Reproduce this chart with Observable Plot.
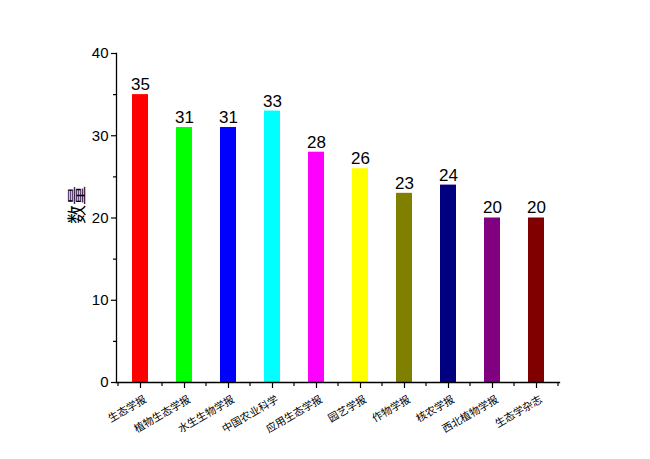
<!DOCTYPE html>
<html><head><meta charset="utf-8">
<script src="https://cdn.jsdelivr.net/npm/d3@7"></script>
<script src="https://cdn.jsdelivr.net/npm/@observablehq/plot@0.6"></script>
<style>body{margin:0;background:#fff;} #chart svg{display:block;}</style>
</head><body><div id="chart"></div>
<script>
const categories = ["生态学报","植物生态学报","水生生物学报","中国农业科学","应用生态学报","园艺学报","作物学报","核农学报","西北植物学报","生态学杂志"];
const values = [35,31,31,33,28,26,23,24,20,20];
const colors = ["#ff0000","#00ff00","#0000ff","#00ffff","#ff00ff","#ffff00","#808000","#000080","#800080","#800000"];
const yMajor = [0,10,20,30,40];
const yMinor = [5,15,25,35];

const data = categories.map((c,i)=>({cat:c, v:values[i], col:colors[i]}));
const chart = Plot.plot({
  width: 650, height: 459,
  marginLeft: 116, marginRight: 91, marginTop: 53, marginBottom: 77,
  style: {fontFamily: "'Liberation Sans', Arial, sans-serif", color: "#000", background: "#fff"},
  x: {domain: categories, paddingInner: 0.64, paddingOuter: 0.32, label: null},
  y: {domain: [0,40], label: null},
  marks: [
    Plot.barY(data, {x: "cat", y: "v", fill: "col"}),
    Plot.text(data, {x: "cat", y: "v", text: d => String(d.v), dy: -10, fontSize: 17, fill: "#000"}),
    Plot.frame({anchor: "left", strokeWidth: 1.3}),
    Plot.frame({anchor: "bottom", strokeWidth: 1.3}),
    Plot.axisY({ticks: yMajor, tickSize: 5, tickPadding: 3, fontSize: 15, label: null, strokeWidth: 1.2}),
    Plot.axisY({ticks: yMinor, tickSize: 3, text: null, label: null, strokeWidth: 1.2}),
    Plot.axisX({tickSize: 6, text: null, label: null, strokeWidth: 1.2}),
    Plot.axisX({tickSize: 0, tickRotate: -30, tickPadding: 2, dx: 5, dy: 14, fontSize: 10.5, fontFamily: "'Noto Sans CJK SC', sans-serif", fill: "#000", label: null}),
    Plot.text(["数量"], {frameAnchor: "left", dx: -39, dy: 6, rotate: -90, fontSize: 19, fontFamily: "'Noto Sans CJK SC', sans-serif", fill: "#000"})
  ]
});
document.getElementById("chart").appendChild(chart);
// minor x ticks between categories, positioned through the x scale
const xs = chart.scale("x");
const svg = d3.select(chart);
const y0 = 459 - 77;
const mids = [];
categories.forEach((c,i)=>{ const left = xs.apply(c) - (xs.step - xs.bandwidth)/2; mids.push(left); if(i===categories.length-1) mids.push(left + xs.step); });
svg.append("g").selectAll("line").data(mids).join("line")
  .attr("x1", d=>d).attr("x2", d=>d).attr("y1", y0).attr("y2", y0+4)
  .attr("stroke","#000").attr("stroke-width",1.2);
</script></body></html>
